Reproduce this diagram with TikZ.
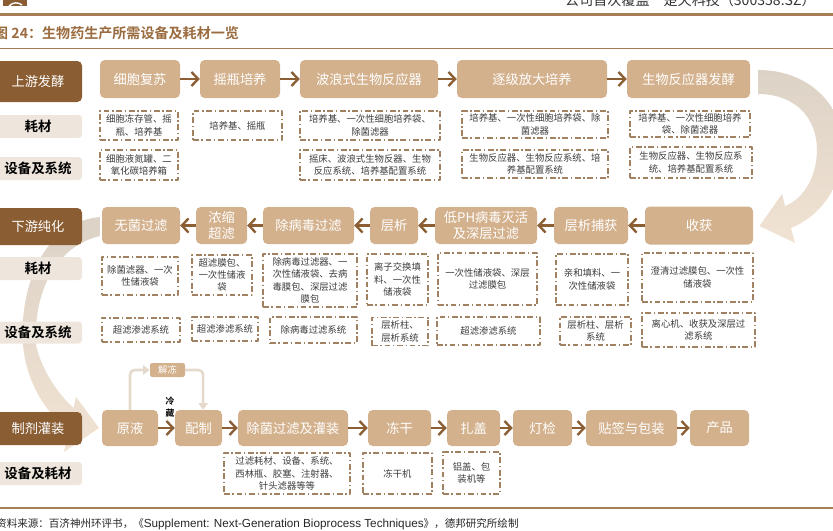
\documentclass[tikz,border=0pt]{standalone}
\usepackage{fontspec}
\setmainfont{Noto Sans CJK SC}[BoldFont={Noto Sans CJK SC Bold}]
\newfontfamily\arialfont{Liberation Sans}
\usetikzlibrary{arrows.meta}
\definecolor{darkbrown}{HTML}{8B5D33}
\definecolor{tan}{HTML}{D4B18D}
\definecolor{arrbrown}{HTML}{8B5E34}
\definecolor{lightlbl}{HTML}{EEE6DD}
\definecolor{dashcol}{HTML}{A08262}
\definecolor{rulecol}{HTML}{A77D55}
\definecolor{titlecol}{HTML}{9A6B3F}
\definecolor{boxtext}{HTML}{3C3C3C}
\definecolor{bandtop}{HTML}{DCD2C6}
\definecolor{bandbot}{HTML}{F1E3D3}
\definecolor{thawcol}{HTML}{E5D9CC}
\begin{document}
\begin{tikzpicture}[x=0.03cm,y=-0.03cm,line join=round,
  sz/.style 2 args={minimum width=#1*0.03cm,minimum height=#2*0.03cm},
  proc/.style={fill=tan,rounded corners=4pt,text=white,inner sep=0pt,align=center,font=\fontsize{11.3}{14}\selectfont},
  lbldark/.style={fill=darkbrown,rounded corners=4pt,text=white,inner sep=0pt,font=\fontsize{11.3}{14}\selectfont},
  lbllight/.style={fill=lightlbl,rounded corners=3pt,text=black,inner sep=0pt,font=\bfseries\fontsize{11.5}{14}\selectfont},
  dbox/.style={draw=dashcol,line width=1.1pt,dash pattern=on 5pt off 2.2pt on 1.3pt off 2.2pt,inner sep=0pt,align=center,text=boxtext,font=\fontsize{8}{10.5}\selectfont},
  flow/.style={draw=arrbrown,line width=2pt,-{Straight Barb[length=2mm,width=4.2mm]}},
  thaw/.style={draw=thawcol,line width=2.2pt,rounded corners=4pt,-{Triangle[length=2mm,width=2.8mm]}}]
\useasboundingbox (0,0) rectangle (833,531);
\clip (0,0) rectangle (833,531);

% page header and title
\fill[darkbrown] (3,0) rectangle (27,6);
\draw[white,line width=1.2pt] (9,6) .. controls (13,2) and (18,2) .. (22,5);
\node[anchor=base west,inner sep=0pt,text=black!80,font=\fontsize{12}{14}\selectfont] (kopf) at (565,6) {公司首次覆盖\hspace{12pt}楚天科技（300358.SZ）};
\draw[rulecol,line width=2.5pt] (0,14.3) -- (833,14.3);
\node[anchor=west,inner sep=0pt,text=titlecol,font=\bfseries\fontsize{12}{14}\selectfont] (titel) at (-6,33) {图 24：生物药生产所需设备及耗材一览};
\draw[rulecol,line width=1.3pt] (0,48.5) -- (833,48.5);

% curved transfer arrows
\shade[top color=bandtop,bottom color=bandbot] (758,70) .. controls (818,70) and (852,118) .. (842,165) .. controls (835,198) and (812,220) .. (791,228) -- (795,243) -- (759.5,226) -- (782,194) -- (785,206) .. controls (800,200) and (812,185) .. (816,162) .. controls (822,122) and (798,94) .. (758,94) -- cycle;
\shade[top color=bandtop,bottom color=bandbot] (100,217) .. controls (42,222) and (19,290) .. (23,345) .. controls (26,378) and (42,410) .. (68.8,430) -- (64,452) -- (99,428) -- (76,397) -- (73.6,408) .. controls (60,396) and (42,372) .. (36,345) .. controls (33,292) and (56,246) .. (100,236) -- cycle;

% upstream
\node[lbldark,sz={88}{41}] (shangyou) at (38,81.5) {上游发酵};
\node[lbllight,sz={88}{23}] (haocai1) at (38,126.5) {耗材};
\node[lbllight,sz={88}{23}] (shebei1) at (38,168.5) {设备及系统};
\node[proc,sz={80}{38}] (fusu) at (140,79) {细胞复苏};
\node[proc,sz={80}{38}] (yaoping) at (240,79) {摇瓶培养};
\node[proc,sz={138}{38}] (bolang) at (369,79) {波浪式生物反应器};
\node[proc,sz={150}{38}] (zhuji) at (532,79) {逐级放大培养};
\node[proc,sz={123}{38}] (fajiao) at (688.5,79) {生物反应器发酵};
\draw[flow] (fusu) -- (yaoping);
\draw[flow] (yaoping) -- (bolang);
\draw[flow] (bolang) -- (zhuji);
\draw[flow] (zhuji) -- (fajiao);
\node[dbox,sz={78}{29}] (hc1a) at (139,125.5) {细胞冻存管、摇\\瓶、培养基};
\node[dbox,sz={89}{29}] (hc1b) at (237.5,125.5) {培养基、摇瓶};
\node[dbox,sz={140}{29}] (hc1c) at (370,125.5) {培养基、一次性细胞培养袋、\\除菌滤器};
\node[dbox,sz={146}{27}] (hc1d) at (535,124.5) {培养基、一次性细胞培养袋、除\\菌滤器};
\node[dbox,sz={120}{26}] (hc1e) at (690,124) {培养基、一次性细胞培养\\袋、除菌滤器};
\node[dbox,sz={78}{30}] (sb1a) at (139,165) {细胞液氮罐、二\\氧化碳培养箱};
\node[dbox,sz={140}{30}] (sb1c) at (370,165) {摇床、波浪式生物反器、生物\\反应系统、培养基配置系统};
\node[dbox,sz={146}{28}] (sb1d) at (535,164) {生物反应器、生物反应系统、培\\养基配置系统};
\node[dbox,sz={122}{31}] (sb1e) at (691,162.5) {生物反应器、生物反应系\\统、培养基配置系统};

% downstream
\node[lbldark,sz={88}{37}] (xiayou) at (38,226.5) {下游纯化};
\node[lbllight,sz={88}{23}] (haocai2) at (38,268.5) {耗材};
\node[lbllight,sz={88}{22}] (shebei2) at (38,332.5) {设备及系统};
\node[proc,sz={78}{37}] (wujun) at (141,225.5) {无菌过滤};
\node[proc,sz={51}{37}] (nongsuo) at (221.5,225.5) {浓缩\\超滤};
\node[proc,sz={91}{37}] (chubingdu) at (308.5,225.5) {除病毒过滤};
\node[proc,sz={48}{37}] (cengxi) at (394,225.5) {层析};
\node[proc,sz={102}{37}] (diph) at (486,225.5) {低PH病毒灭活\\及深层过滤};
\node[proc,sz={74}{37}] (buhuo) at (591,225.5) {层析捕获};
\node[proc,sz={108}{38}] (shouhuo) at (699,225.5) {收获};
\draw[flow] (shouhuo) -- (buhuo);
\draw[flow] (buhuo) -- (diph);
\draw[flow] (diph) -- (cengxi);
\draw[flow] (cengxi) -- (chubingdu);
\draw[flow] (chubingdu) -- (nongsuo);
\draw[flow] (nongsuo) -- (wujun);
\node[dbox,sz={76}{38}] (hc2a) at (140,276) {除菌滤器、一次\\性储液袋};
\node[dbox,sz={60}{40}] (hc2b) at (222,275) {超滤膜包、\\一次性储液\\袋};
\node[dbox,sz={94}{53}] (hc2c) at (310,280.5) {除病毒过滤器、一\\次性储液袋、去病\\毒膜包、深层过滤\\膜包};
\node[dbox,sz={61}{51}] (hc2d) at (397.5,279.5) {离子交换填\\料、一次性\\储液袋};
\node[dbox,sz={99}{52}] (hc2e) at (487.5,279) {一次性储液袋、深层\\过滤膜包};
\node[dbox,sz={72}{51}] (hc2f) at (592,279.5) {亲和填料、一\\次性储液袋};
\node[dbox,sz={111}{49}] (hc2g) at (697.5,277.5) {澄清过滤膜包、一次性\\储液袋};
\node[dbox,sz={78}{24}] (sb2a) at (141,330) {超滤渗滤系统};
\node[dbox,sz={66}{24}] (sb2b) at (225,329) {超滤渗滤系统};
\node[dbox,sz={87}{26}] (sb2c) at (313.5,330) {除病毒过滤系统};
\node[dbox,sz={56}{28}] (sb2d) at (400,331.5) {层析柱、\\层析系统};
\node[dbox,sz={103}{28}] (sb2e) at (488.5,331) {超滤渗滤系统};
\node[dbox,sz={71}{28}] (sb2f) at (595.5,331) {层析柱、层析\\系统};
\node[dbox,sz={113}{34}] (sb2g) at (698.5,330) {离心机、收获及深层过\\滤系统};

% fill and finish
\node[lbldark,sz={88}{33}] (zhiji) at (38,428.5) {制剂灌装};
\node[lbllight,sz={88}{23}] (shebei3) at (38,473.5) {设备及耗材};
\node[proc,sz={56}{36}] (yuanye) at (130,428) {原液};
\node[proc,sz={47}{36}] (peizhi) at (198.5,428) {配制};
\node[proc,sz={110}{36}] (guanzhuang) at (293,428) {除菌过滤及灌装};
\node[proc,sz={63}{36}] (donggan) at (399.5,428) {冻干};
\node[proc,sz={53}{36}] (zhagai) at (473.5,428) {扎盖};
\node[proc,sz={59}{36}] (dengjian) at (542.5,428) {灯检};
\node[proc,sz={91}{36}] (tieqian) at (631.5,428) {贴签与包装};
\node[proc,sz={59}{36}] (chanpin) at (719.5,428) {产品};
\node[proc,rounded corners=2pt,sz={35}{14},font=\fontsize{8}{9}\selectfont] (jiedong) at (167.5,370) {解冻};
\draw[thaw] (yuanye.north) |- (jiedong.west);
\draw[thaw] (jiedong.east) -| ([xshift=0.14cm]peizhi.north);
\node[inner sep=0pt,align=center,font=\bfseries\fontsize{7.5}{10}\selectfont] (lengcang) at (170,407.5) {冷\\藏};
\draw[flow] (yuanye) -- (peizhi);
\draw[flow] (peizhi) -- (guanzhuang);
\draw[flow] (guanzhuang) -- (donggan);
\draw[flow] (donggan) -- (zhagai);
\draw[flow] (zhagai) -- (dengjian);
\draw[flow] (dengjian) -- (tieqian);
\draw[flow] (tieqian) -- (chanpin);
\node[dbox,sz={126}{41}] (sb3a) at (287,473.5) {过滤耗材、设备、系统、\\西林瓶、胶塞、注射器、\\针头滤器等等};
\node[dbox,sz={69}{41}] (sb3b) at (397.5,473.5) {冻干机};
\node[dbox,sz={57}{42}] (sb3c) at (471.5,473) {铝盖、包\\装机等};

% source line
\draw[rulecol,line width=1.4pt] (0,508.3) -- (833,508.3);
\node[anchor=west,inner sep=0pt,text=black!85,font=\fontsize{9}{11}\selectfont] (quelle) at (-4,524) {资料来源：百济神州环评书，《{\arialfont\fontsize{10}{12}\selectfont Supplement: Next-Generation Bioprocess Techniques}》，德邦研究所绘制};
\end{tikzpicture}
\end{document}
